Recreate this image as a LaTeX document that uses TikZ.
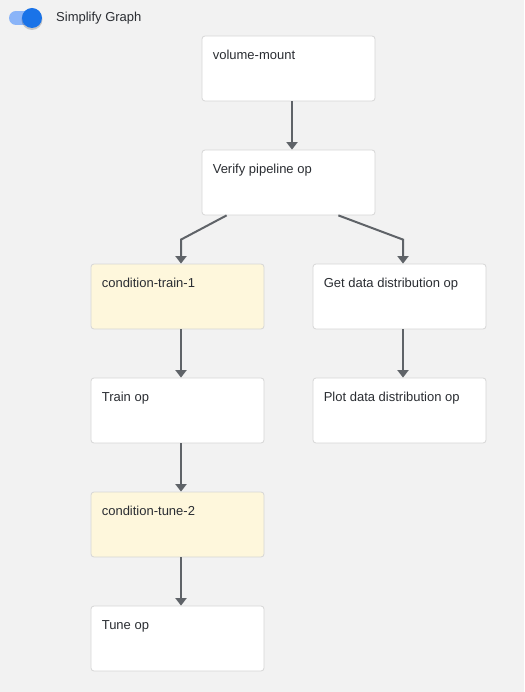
\documentclass[tikz,border=0pt]{standalone}
\usepackage{fontspec}
\setmainfont{Liberation Sans}
\usetikzlibrary{arrows.meta}
\definecolor{bgGray}{HTML}{F2F2F2}
\definecolor{boxLine}{HTML}{D6D6D6}
\definecolor{condFill}{HTML}{FEF7DC}
\definecolor{edgeGray}{HTML}{5F6368}
\definecolor{txtGray}{HTML}{2A2D32}
\definecolor{trackBlue}{HTML}{8AB4F8}
\definecolor{knobBlue}{HTML}{1A73E8}
\begin{document}
\begin{tikzpicture}[x=1pt,y=-1pt,
    every node/.style={font=\fontsize{13}{15}\selectfont, text=txtGray},
    opbox/.style={draw=boxLine, line width=0.8pt, fill=white, rounded corners=3pt,
      minimum width=173pt, minimum height=65pt, inner sep=0pt,
      label={[anchor=base west, xshift=11pt, yshift=-23.5pt, inner sep=0pt]north west:#1}},
    condbox/.style={opbox=#1, fill=condFill},
    edge/.style={draw=edgeGray, line width=2pt, -{Triangle[width=11pt,length=7.5pt]}}]
      \useasboundingbox[fill=bgGray] (0,0) rectangle (524,692);

      % toggle
      \fill[trackBlue] (16,11) rectangle (32,25);
      \fill[trackBlue] (16,18) circle (7);
      \fill[black, opacity=0.18] (32,19.5) circle (10.5);
      \fill[knobBlue] (32,18) circle (10);
      \node[anchor=base west, inner sep=0pt] (simpN) at (56,22) {Simplify Graph};

      \node[opbox=volume-mount]              (volN)      at (288.5,68.5)  {};
      \node[opbox=Verify pipeline op]        (verifyN)   at (288.5,182.5) {};

      \node[condbox=condition-train-1]       (condTrainN) at (177.5,296.5) {};
      \node[opbox=Get data distribution op]  (getDistN)  at (399.5,296.5) {};

      \node[opbox=Train op]                  (trainN)    at (177.5,410.5) {};
      \node[opbox=Plot data distribution op] (plotDistN) at (399.5,410.5) {};

      \node[condbox=condition-tune-2]        (condTuneN) at (177.5,524.5) {};
      \node[opbox=Tune op]                   (tuneN)     at (177.5,638.5) {};

      \draw[edge] ([xshift=3.5pt]volN.south) -- ([xshift=3.5pt]verifyN.north);

      \draw[edge] ([xshift=25pt]verifyN.south west)  -- ([xshift=3.5pt,yshift=24pt]condTrainN.north) -- ([xshift=3.5pt]condTrainN.north);
      \draw[edge] ([xshift=-37pt]verifyN.south east) -- ([xshift=3.5pt,yshift=24pt]getDistN.north)   -- ([xshift=3.5pt]getDistN.north);

      \draw[edge] ([xshift=3.5pt]condTrainN.south) -- ([xshift=3.5pt]trainN.north);
      \draw[edge] ([xshift=3.5pt]getDistN.south)   -- ([xshift=3.5pt]plotDistN.north);
      \draw[edge] ([xshift=3.5pt]trainN.south)     -- ([xshift=3.5pt]condTuneN.north);
      \draw[edge] ([xshift=3.5pt]condTuneN.south)  -- ([xshift=3.5pt]tuneN.north);
    \end{tikzpicture}
\end{document}
